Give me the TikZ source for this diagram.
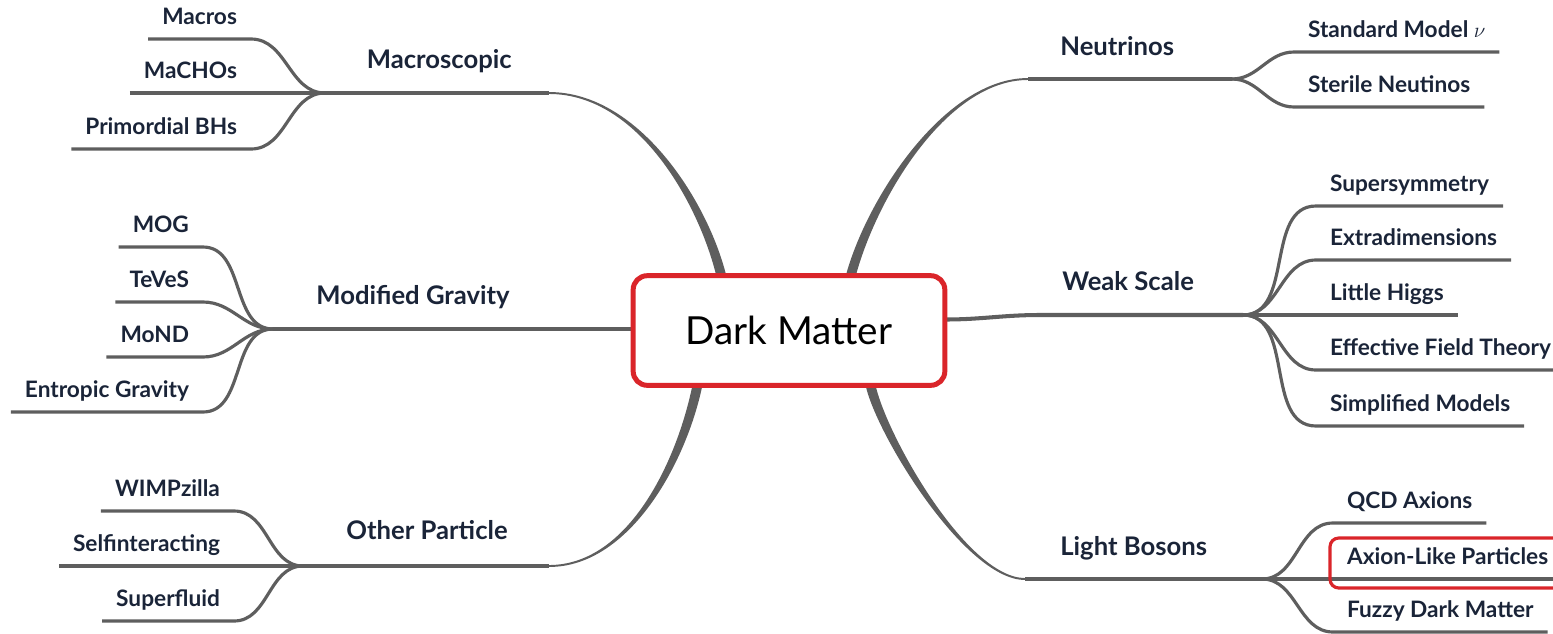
\documentclass[tikz,border=0pt]{standalone}
\usepackage{fontspec}
\setmainfont{Lato}
\usetikzlibrary{calc}

\definecolor{dmred}{RGB}{218,37,42}
\definecolor{twiggray}{RGB}{94,94,94}
\definecolor{inkblue}{RGB}{26,36,56}

\tikzset{
  core/.style={draw=dmred, line width=2.83pt, fill=white, rounded corners=8pt,
    minimum width=177.4pt, minimum height=62.4pt, inner sep=0pt, outer sep=0pt,
    font=\fontsize{22}{26}\selectfont, text=black},
  branchL/.style={anchor=base east, inner sep=0pt, text=inkblue,
    font=\fontsize{14.6}{17}\selectfont\bfseries},
  branchR/.style={branchL, anchor=base west},
  leafL/.style={anchor=south east, inner xsep=8pt, inner ysep=8.5pt, outer sep=0pt,
    text depth=0pt, text=inkblue, font=\fontsize{12.9}{16}\selectfont\bfseries},
  leafR/.style={leafL, anchor=south west},
  twig/.style={draw=twiggray, line width=1.8pt},
  bough/.style={draw=twiggray, line width=1.9pt},
  trunk/.style={fill=twiggray, draw=twiggray, line width=1.1pt},
  hilite/.style={draw=dmred, line width=1.8pt, rounded corners=5pt}
}

\begin{document}
\begin{tikzpicture}[x=0.02cm, y=-0.02cm]
\useasboundingbox (0,0) rectangle (1553,633);

% Junctions and branch ends
\coordinate (macJ) at (325,93);
\coordinate (macE) at (549,93);
\coordinate (modJ) at (273,329);
\coordinate (othJ) at (303,566);
\coordinate (othE) at (549,566);
\coordinate (neuE) at (1028,79);
\coordinate (neuJ) at (1232,79);
\coordinate (wsB) at (1040,315);
\coordinate (wsJ) at (1243,315);
\coordinate (lbE) at (1025,579);
\coordinate (lbJ) at (1262,579);

% Centre box (placed first for the anchors, drawn again on top)
\path (789,330.5) node[core, draw=none, fill=none] (dm) {};

% Trunks
\fill[trunk] (macE) .. controls ($(macE)+(91,0)$) and ($(dm.north)+(-88,-70)$) .. ($(dm.north)+(-71,3)$)
  -- ($(dm.north)+(-63,3)$) .. controls ($(dm.north)+(-80,-70)$) and ($(macE)+(91,0)$) .. (macE) -- cycle;
\fill[trunk] (neuE) .. controls ($(neuE)+(-83,0)$) and ($(dm.north)+(77,-75)$) .. ($(dm.north)+(57,3)$)
  -- ($(dm.north)+(65,3)$) .. controls ($(dm.north)+(85,-75)$) and ($(neuE)+(-83,0)$) .. (neuE) -- cycle;
\fill[trunk] (othE) .. controls ($(othE)+(81,0)$) and ($(dm.south)+(-110,74)$) .. ($(dm.south)+(-95,-3)$)
  -- ($(dm.south)+(-87,-3)$) .. controls ($(dm.south)+(-102,74)$) and ($(othE)+(81,0)$) .. (othE) -- cycle;
\fill[trunk] (lbE) .. controls ($(lbE)+(-60,0)$) and ($(dm.south)+(85,44)$) .. ($(dm.south)+(77,-3)$)
  -- ($(dm.south)+(85,-3)$) .. controls ($(dm.south)+(93,44)$) and ($(lbE)+(-60,0)$) .. (lbE) -- cycle;

% Branch lines
\draw[bough] (macJ) -- (macE);
\draw[bough] (modJ) -- (modJ -| dm.west);
\draw[bough] (othJ) -- (othE);
\draw[bough] (neuE) -- (neuJ);
\draw[bough, line width=2.3pt] ($(dm.east)+(0,-11)$) to[out=0,in=180] (wsB) -- (wsJ);
\draw[bough] (lbE) -- (lbJ);

% Centre
\node[core] (dm) at (789,330.5) {Dark Matter};

% Branch labels
\node[branchL] (macro) at (512,68) {Macroscopic};
\node[branchL] (modgrav) at (510,304) {Modified Gravity};
\node[branchL] (other) at (508,539) {Other Particle};
\node[branchR] (neutrinos) at (1060,55) {Neutrinos};
\node[branchR] (weak) at (1062,290) {Weak Scale};
\node[branchR] (light) at (1060,555) {Light Bosons};

% Macroscopic
\node[leafL] (macros) at (251,39) {Macros};
\node[leafL] (machos) at (251,93) {MaCHOs};
\node[leafL] (pbh) at (251,149) {Primordial BHs};
\draw[twig] (macros.south west) -- (macros.south east) to[out=0,in=180] (macJ);
\draw[twig] (machos.south west) -- (macJ);
\draw[twig] (pbh.south west) -- (pbh.south east) to[out=0,in=180] (macJ);

% Modified Gravity
\node[leafL] (mog) at (203,247) {MOG};
\node[leafL] (teves) at (203,302) {TeVeS};
\node[leafL] (mond) at (203,357) {MoND};
\node[leafL] (entropic) at (203,412) {Entropic Gravity};
\draw[twig] (mog.south west) -- (mog.south east) to[out=0,in=180] (modJ);
\draw[twig] (teves.south west) -- (teves.south east) to[out=0,in=180] (modJ);
\draw[twig] (mond.south west) -- (mond.south east) to[out=0,in=180] (modJ);
\draw[twig] (entropic.south west) -- (entropic.south east) to[out=0,in=180] (modJ);

% Other Particle
\node[leafL] (wimpzilla) at (234,511) {WIMPzilla};
\node[leafL] (selfint) at (234,566) {Selfinteracting};
\node[leafL] (superfluid) at (234,621) {Superfluid};
\draw[twig] (wimpzilla.south west) -- (wimpzilla.south east) to[out=0,in=180] (othJ);
\draw[twig] (selfint.south west) -- (othJ);
\draw[twig] (superfluid.south west) -- (superfluid.south east) to[out=0,in=180] (othJ);

% Neutrinos
\node[leafR] (smnu) at (1294,52) {Standard Model $\nu$};
\node[leafR] (sterile) at (1294,107) {Sterile Neutinos};
\draw[twig] (neuJ) to[out=0,in=180] (smnu.south west) -- (smnu.south east);
\draw[twig] (neuJ) to[out=0,in=180] (sterile.south west) -- (sterile.south east);

% Weak Scale
\node[leafR] (susy) at (1316,206) {Supersymmetry};
\node[leafR] (extradim) at (1316,260) {Extradimensions};
\node[leafR] (higgs) at (1316,315) {Little Higgs};
\node[leafR] (eft) at (1316,370) {Effective Field Theory};
\node[leafR] (simplified) at (1316,426) {Simplified Models};
\draw[twig] (wsJ) to[out=0,in=180] (susy.south west) -- (susy.south east);
\draw[twig] (wsJ) to[out=0,in=180] (extradim.south west) -- (extradim.south east);
\draw[twig] (wsJ) -- (higgs.south east);
\draw[twig] (wsJ) to[out=0,in=180] (eft.south west) -- (eft.south east);
\draw[twig] (wsJ) to[out=0,in=180] (simplified.south west) -- (simplified.south east);

% Light Bosons
\node[leafR] (qcd) at (1333,523) {QCD Axions};
\node[leafR] (alp) at (1333,579) {Axion-Like Particles};
\node[leafR] (fuzzy) at (1333,632) {Fuzzy Dark Matter};
\draw[twig] (lbJ) to[out=0,in=180] (qcd.south west) -- (qcd.south east);
\draw[twig] (lbJ) -- (alp.south east);
\draw[twig] (lbJ) to[out=0,in=180] (fuzzy.south west) -- (fuzzy.south east);

% Highlight
\draw[hilite] ($(alp.south west)+(-3,9)$) rectangle ($(alp.south east)+(20,-41)$);

\end{tikzpicture}
\end{document}
